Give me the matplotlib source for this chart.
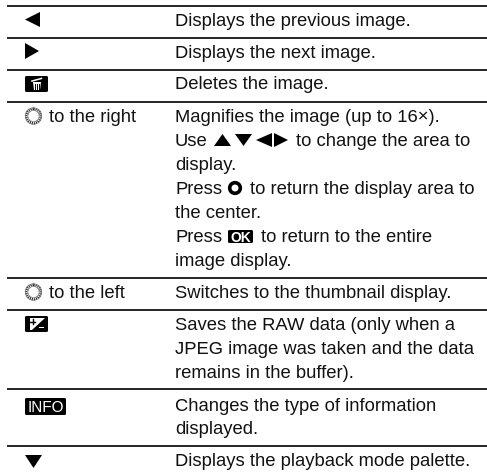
import matplotlib
matplotlib.use("Agg")
import matplotlib.pyplot as plt
from matplotlib.patches import Polygon, FancyBboxPatch, Circle, Rectangle

W, H = 487, 475
rule_y = [6, 38, 70, 102, 278, 310, 389, 446]
text_runs = [
    (175, 26, "Displays the previous image."),
    (175, 58, "Displays the next image."),
    (175, 89, "Deletes the image."),
    (175, 122, "Magnifies the image (up to 16×)."),
    (175, 146, "Use"),
    (296, 146, "to change the area to"),
    (175, 170, "display."),
    (175, 194, "Press"),
    (250, 194, "to return the display area to"),
    (175, 218, "the center."),
    (175, 242, "Press"),
    (261, 242, "to return to the entire"),
    (175, 266, "image display."),
    (175, 298, "Switches to the thumbnail display."),
    (175, 330, "Saves the RAW data (only when a"),
    (175, 354, "JPEG image was taken and the data"),
    (175, 378, "remains in the buffer)."),
    (175, 411, "Changes the type of information"),
    (175, 434, "displayed."),
    (175, 466, "Displays the playback mode palette."),
    (49, 122, "to the right"),
    (49, 298, "to the left"),
]
FS = 13.2

fig = plt.figure(figsize=(W / 100, H / 100), dpi=100)
ax = fig.add_axes([0, 0, 1, 1])
ax.set_xlim(0, W)
ax.set_ylim(H, 0)
ax.axis("off")
plt.rcParams["font.family"] = "Liberation Sans"
plt.rcParams["text.hinting"] = "no_autohint"

for y in rule_y:
    ax.plot([7, 487], [y, y], color="black", lw=1.2, solid_capstyle="butt")
for x, y, s in text_runs:
    ax.text(x, y, s, fontsize=FS, va="baseline", ha="left", color="#111111")

def tri(x0, x1, y0, y1, d):
    cx, cy = (x0 + x1) / 2, (y0 + y1) / 2
    pts = {"l": [(x1, y0), (x1, y1), (x0, cy)],
           "r": [(x0, y0), (x0, y1), (x1, cy)],
           "u": [(x0, y1), (x1, y1), (cx, y0)],
           "d": [(x0, y0), (x1, y0), (cx, y1)]}[d]
    ax.add_patch(Polygon(pts, closed=True, fc="black", ec="none"))

def box(x0, y0, x1, y1):
    ax.add_patch(FancyBboxPatch((x0 + 1.5, y0 + 1.5), x1 - x0 - 3, y1 - y0 - 3,
                                boxstyle="round,pad=1.5", fc="black", ec="none"))

def dial(cx, cy):
    ax.add_patch(Circle((cx, cy), 7.2, fc="white", ec="#333333", lw=1.9, ls=(0, (0.45, 0.35))))
    ax.add_patch(Circle((cx, cy), 8.2, fc="none", ec="#777777", lw=0.5))
    ax.add_patch(Circle((cx, cy), 5.6, fc="white", ec="#777777", lw=0.5))

tri(25, 40, 12, 27, "l")
tri(25, 39, 43, 59, "r")
tri(25, 42, 455, 468, "d")

box(25, 76, 48, 92)
ax.add_patch(Polygon([(31, 80.5), (42, 77.5), (42.4, 79), (31.4, 82)], fc="white", ec="none"))
ax.add_patch(Polygon([(33, 82), (41, 82), (40, 90), (34, 90)], fc="white", ec="none"))
for xx in (35.2, 37, 38.8):
    ax.plot([xx, xx], [83.5, 88.5], color="black", lw=0.7)

dial(33.5, 116)
dial(33.5, 292)

box(25, 316, 48, 332)
ax.add_patch(Rectangle((30, 318), 14.5, 11.5, fc="white", ec="none"))
ax.add_patch(Polygon([(44.5, 318), (44.5, 329.5), (32, 329.5)], fc="black", ec="none"))
ax.add_patch(Rectangle((38.5, 326.6), 5, 1.1, fc="white", ec="none"))
ax.plot([30.2, 35], [321.8, 321.8], color="black", lw=1.0)
ax.plot([32.6, 32.6], [319.4, 324.2], color="black", lw=1.0)

box(25, 398, 66, 415)
ax.text(45.5, 406.7, "INFO", fontsize=11, ha="center", va="center_baseline", color="white",
        family=["Liberation Sans Narrow", "Liberation Sans"])

tri(214, 231, 134, 146, "u")
tri(235, 252, 134, 146, "d")
tri(256, 272, 133, 147, "l")
tri(274, 288, 133, 147, "r")
ax.add_patch(Circle((235, 188), 5.3, fc="white", ec="black", lw=2.6))
box(228, 230, 253, 243)
ax.text(240.5, 236.7, "OK", fontsize=10, fontweight="bold", ha="center", va="center_baseline",
        color="white", family=["Liberation Sans Narrow", "Liberation Sans"])

fig.savefig("out.png", dpi=100)
